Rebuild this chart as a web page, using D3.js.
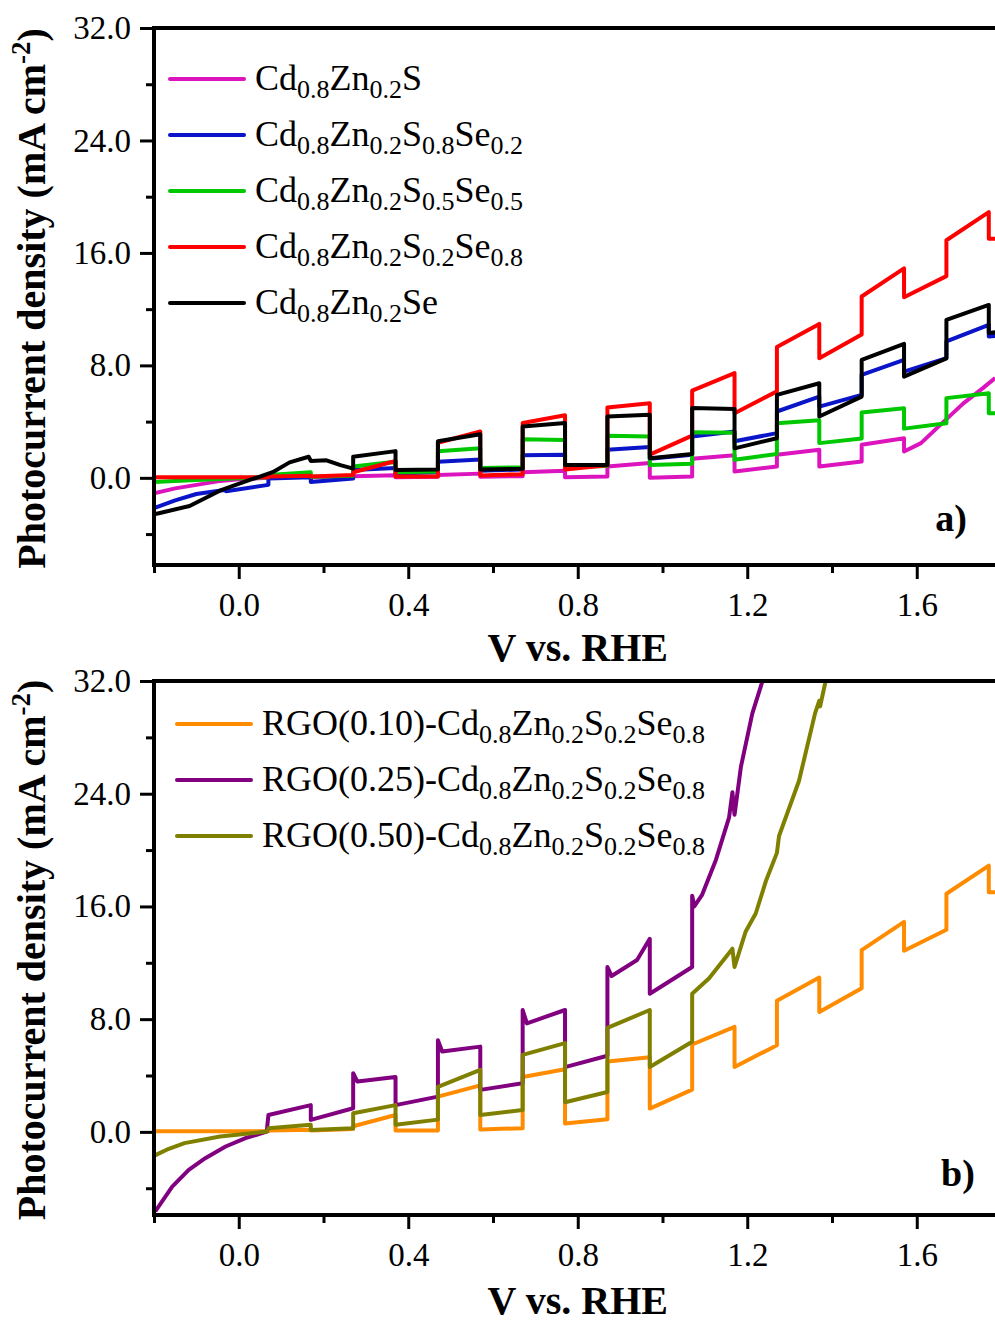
<!DOCTYPE html>
<html>
<head>
<meta charset="utf-8">
<script src="https://cdn.jsdelivr.net/npm/d3@7"></script>
<style>
  body { margin: 0; background: #fff; }
  svg { display: block; }
  text { font-family: 'Liberation Serif', 'Times New Roman', serif; fill: #000; }
</style>
</head>
<body>
<svg id="svg"></svg>
<script>
"use strict";
var width = 995;
var height = 1322;

// axis ticks
var voltageTicks = [0.0, 0.4, 0.8, 1.2, 1.6];
var voltageMinorTicks = [-0.2, 0.2, 0.6, 1.0, 1.4];
var currentTicks = [0.0, 8.0, 16.0, 24.0, 32.0];
var currentMinorTicks = [-4, 4, 12, 20, 28];

// chopped LSV curves, [V vs RHE, mA cm-2]
var cdznS = [[-0.2, -1.1], [-0.15, -0.75], [-0.1, -0.5], [-0.05, -0.25], [0.0, -0.1], [0.07, 0.0], [0.07, 0.05],
    [0.17, 0.1], [0.17, 0.05], [0.27, 0.05], [0.27, 0.12], [0.37, 0.18], [0.37, 0.05], [0.47, 0.08], [0.47, 0.2],
    [0.57, 0.3], [0.57, 0.08], [0.67, 0.12], [0.67, 0.4], [0.77, 0.5], [0.77, 0.05], [0.87, 0.1], [0.87, 0.8],
    [0.97, 1.05], [0.97, 0.0], [1.07, 0.1], [1.07, 1.35], [1.17, 1.6], [1.17, 0.45], [1.27, 0.8], [1.27, 1.64],
    [1.37, 2.0], [1.37, 0.8], [1.47, 1.16], [1.47, 2.35], [1.57, 2.82], [1.57, 1.87], [1.61, 2.47], [1.66, 3.89],
    [1.71, 5.3], [1.756, 6.38], [1.785, 7.1]];
var cdznS08Se02 = [[-0.2, -2.15], [-0.15, -1.6], [-0.1, -1.15], [-0.03, -0.85], [-0.03, -0.95], [0.07, -0.5],
    [0.07, -0.05], [0.17, 0.05], [0.17, -0.3], [0.27, -0.05], [0.27, 0.55], [0.37, 0.7], [0.37, 0.3], [0.47, 0.4],
    [0.47, 1.15], [0.57, 1.3], [0.57, 0.5], [0.67, 0.6], [0.67, 1.6], [0.77, 1.64], [0.77, 0.8], [0.87, 0.85],
    [0.87, 2.0], [0.97, 2.2], [0.97, 1.35], [1.07, 1.64], [1.07, 2.94], [1.17, 3.3], [1.17, 2.6], [1.27, 3.18],
    [1.27, 4.72], [1.37, 5.78], [1.37, 5.07], [1.47, 5.9], [1.47, 7.33], [1.57, 8.39], [1.57, 7.56], [1.67, 8.51],
    [1.67, 9.7], [1.77, 10.88], [1.77, 10.05], [1.785, 10.1]];
var cdznS05Se05 = [[-0.2, -0.3], [-0.1, -0.15], [0.0, -0.03], [0.07, 0.05], [0.07, 0.2], [0.17, 0.4], [0.17, 0.07],
    [0.27, 0.15], [0.27, 0.8], [0.37, 1.15], [0.37, 0.4], [0.47, 0.45], [0.47, 1.9], [0.57, 2.1], [0.57, 0.7],
    [0.67, 0.75], [0.67, 2.75], [0.77, 2.7], [0.77, 0.8], [0.87, 0.85], [0.87, 3.0], [0.97, 2.94], [0.97, 0.92],
    [1.07, 1.0], [1.07, 3.25], [1.17, 3.2], [1.17, 1.28], [1.27, 1.7], [1.27, 3.89], [1.37, 4.1], [1.37, 2.47],
    [1.47, 2.8], [1.47, 4.65], [1.57, 4.95], [1.57, 3.5], [1.67, 3.89], [1.67, 5.67], [1.77, 6.02], [1.77, 4.6],
    [1.785, 4.6]];
var cdznS02Se08 = [[-0.2, 0.05], [0.07, 0.05], [0.07, 0.1], [0.17, 0.15], [0.17, 0.1], [0.27, 0.2], [0.27, 0.4],
    [0.37, 1.2], [0.37, 0.1], [0.47, 0.1], [0.47, 2.5], [0.57, 3.3], [0.57, 0.17], [0.67, 0.26], [0.67, 3.9],
    [0.77, 4.45], [0.77, 0.6], [0.87, 0.9], [0.87, 5.0], [0.97, 5.3], [0.97, 1.65], [1.07, 3.0], [1.07, 6.2],
    [1.17, 7.45], [1.17, 4.6], [1.27, 6.15], [1.27, 9.3], [1.37, 10.95], [1.37, 8.5], [1.47, 10.2], [1.47, 12.9],
    [1.57, 14.9], [1.57, 12.85], [1.67, 14.35], [1.67, 16.9], [1.77, 18.9], [1.77, 17.0], [1.785, 17.0]];
var cdznSe = [[-0.2, -2.6], [-0.186, -2.5], [-0.116, -2.0], [-0.04, -0.85], [0.026, -0.15], [0.08, 0.4],
    [0.12, 1.1], [0.165, 1.5], [0.17, 1.2], [0.207, 1.25], [0.24, 0.9], [0.27, 0.66], [0.27, 1.5], [0.37, 1.9],
    [0.37, 0.55], [0.47, 0.6], [0.47, 2.6], [0.57, 3.1], [0.57, 0.6], [0.67, 0.65], [0.67, 3.65], [0.77, 3.9],
    [0.77, 0.92], [0.87, 0.92], [0.87, 4.36], [0.97, 4.48], [0.97, 1.4], [1.07, 1.7], [1.07, 4.96], [1.17, 4.9],
    [1.17, 2.1], [1.27, 2.82], [1.27, 5.9], [1.37, 6.73], [1.37, 4.36], [1.47, 5.78], [1.47, 8.39], [1.57, 9.53],
    [1.57, 7.2], [1.67, 8.5], [1.67, 11.24], [1.77, 12.3], [1.77, 10.3], [1.785, 10.35]];
// RGO(0.10) sample gives the same curve as Cd0.8Zn0.2S0.2Se0.8
var rgo010 = cdznS02Se08;
var rgo025 = [[-0.197, -5.65], [-0.157, -3.88], [-0.118, -2.7], [-0.079, -1.87], [-0.031, -1.04], [0.016, -0.45],
    [0.066, 0.02], [0.07, 1.2], [0.17, 1.9], [0.17, 0.85], [0.27, 1.68], [0.27, 4.16], [0.28, 3.57], [0.37, 3.9],
    [0.37, 1.9], [0.47, 2.5], [0.47, 6.5], [0.48, 5.7], [0.57, 6.05], [0.57, 2.98], [0.67, 3.45], [0.67, 8.65],
    [0.68, 7.7], [0.77, 8.65], [0.77, 4.6], [0.87, 5.4], [0.87, 11.7], [0.88, 11.06], [0.94, 12.2], [0.97, 13.7],
    [0.97, 9.8], [1.07, 11.7], [1.07, 16.76], [1.075, 16.0], [1.093, 16.8], [1.126, 19.3], [1.157, 22.3],
    [1.165, 24.1], [1.17, 22.5], [1.185, 25.9], [1.212, 29.7], [1.236, 32.0], [1.25, 34.0]];
var rgo050 = [[-0.2, -1.7], [-0.165, -1.2], [-0.128, -0.8], [-0.044, -0.33], [0.066, 0.02], [0.07, 0.25],
    [0.17, 0.5], [0.17, 0.14], [0.27, 0.25], [0.27, 1.32], [0.37, 1.9], [0.37, 0.5], [0.47, 0.87], [0.47, 3.2],
    [0.57, 4.4], [0.57, 1.2], [0.67, 1.56], [0.67, 5.46], [0.77, 6.3], [0.77, 2.1], [0.87, 2.83], [0.87, 7.38],
    [0.97, 8.65], [0.97, 4.6], [1.07, 6.4], [1.07, 9.8], [1.11, 10.9], [1.165, 13.0], [1.17, 11.7], [1.196, 14.2],
    [1.22, 15.5], [1.244, 17.8], [1.27, 19.8], [1.275, 21.0], [1.322, 24.9], [1.36, 29.7], [1.37, 30.6],
    [1.372, 30.2], [1.385, 32.0], [1.4, 34.0]];

// legend labels: even items normal text, odd items subscripts
var topLabels = [
    ['Cd', '0.8', 'Zn', '0.2', 'S'],
    ['Cd', '0.8', 'Zn', '0.2', 'S', '0.8', 'Se', '0.2'],
    ['Cd', '0.8', 'Zn', '0.2', 'S', '0.5', 'Se', '0.5'],
    ['Cd', '0.8', 'Zn', '0.2', 'S', '0.2', 'Se', '0.8'],
    ['Cd', '0.8', 'Zn', '0.2', 'Se']
];
var bottomLabels = [
    ['RGO(0.10)-Cd', '0.8', 'Zn', '0.2', 'S', '0.2', 'Se', '0.8'],
    ['RGO(0.25)-Cd', '0.8', 'Zn', '0.2', 'S', '0.2', 'Se', '0.8'],
    ['RGO(0.50)-Cd', '0.8', 'Zn', '0.2', 'S', '0.2', 'Se', '0.8']
];
var topColors = ['#DC14BE', '#0A14C8', '#00C800', '#FF0000', '#000000'];
var bottomColors = ['#FF8C00', '#800080', '#808000'];

var panels = [
    { top: 28, bottom: 565, yMin: -6.2, series: [cdznS, cdznS08Se02, cdznS05Se05, cdznS02Se08, cdznSe],
      labels: topLabels, colors: topColors, legendX: 170, legendY: 79, tag: 'a)', tagX: 951, tagY: 531, titleY: 661 },
    { top: 681, bottom: 1215, yMin: -5.9, series: [rgo010, rgo025, rgo050],
      labels: bottomLabels, colors: bottomColors, legendX: 177, legendY: 724, tag: 'b)', tagX: 958, tagY: 1186, titleY: 1314 }
];

var svg = d3.select('#svg')
    .attr('width', width)
    .attr('height', height);

// same voltage axis for both panels
var x = d3.scaleLinear().domain([-0.2, 1.8]).range([154, 1001.5]);

var styleAxis = function (g) {
    g.select('.domain').remove();
    g.selectAll('.tick line').attr('stroke', '#000').attr('stroke-width', 3);
    g.selectAll('.tick text').style('font-size', '33px').attr('fill', '#000');
};

panels.forEach(function (p, i) {
    var y = d3.scaleLinear().domain([p.yMin, 32]).range([p.bottom, p.top]);

    svg.append('clipPath')
        .attr('id', 'clip' + i)
        .append('rect')
        .attr('x', x.range()[0])
        .attr('y', p.top)
        .attr('width', x.range()[1] - x.range()[0])
        .attr('height', p.bottom - p.top);

    // x ticks
    svg.append('g')
        .attr('transform', 'translate(0,' + p.bottom + ')')
        .call(d3.axisBottom(x).tickValues(voltageMinorTicks).tickSize(8).tickFormat(''))
        .call(styleAxis);
    svg.append('g')
        .attr('transform', 'translate(0,' + p.bottom + ')')
        .call(d3.axisBottom(x).tickValues(voltageTicks).tickSize(14).tickPadding(14).tickFormat(d3.format('.1f')))
        .call(styleAxis);

    // y ticks
    svg.append('g')
        .attr('transform', 'translate(' + x.range()[0] + ',0)')
        .call(d3.axisLeft(y).tickValues(currentMinorTicks).tickSize(8).tickFormat(''))
        .call(styleAxis);
    svg.append('g')
        .attr('transform', 'translate(' + x.range()[0] + ',0)')
        .call(d3.axisLeft(y).tickValues(currentTicks).tickSize(14).tickPadding(9).tickFormat(d3.format('.1f')))
        .call(styleAxis);

    // curves
    var line = d3.line()
        .x(function (d) { return x(d[0]); })
        .y(function (d) { return y(d[1]); });
    svg.append('g')
        .attr('clip-path', 'url(#clip' + i + ')')
        .selectAll('path')
        .data(p.series)
        .enter()
        .append('path')
        .attr('d', line)
        .attr('fill', 'none')
        .attr('stroke', function (d, k) { return p.colors[k]; })
        .attr('stroke-width', 4)
        .attr('stroke-linejoin', 'round');

    // frame
    svg.append('rect')
        .attr('x', x.range()[0])
        .attr('y', p.top)
        .attr('width', x.range()[1] - x.range()[0])
        .attr('height', p.bottom - p.top)
        .attr('fill', 'none')
        .attr('stroke', '#000')
        .attr('stroke-width', 4);

    // legend
    var leg = svg.append('g')
        .selectAll('g')
        .data(p.labels)
        .enter()
        .append('g')
        .attr('transform', function (d, k) { return 'translate(' + p.legendX + ',' + (p.legendY + k * 56) + ')'; });
    leg.append('line')
        .attr('x1', 0)
        .attr('x2', 74)
        .attr('stroke', function (d, k) { return p.colors[k]; })
        .attr('stroke-width', 4)
        .attr('stroke-linecap', 'round');
    leg.append('text')
        .attr('x', 85)
        .attr('y', 11)
        .style('font-size', '36px')
        .each(function (parts) {
            var t = d3.select(this);
            parts.forEach(function (s, k) {
                t.append('tspan')
                    .text(s)
                    .style('font-size', k % 2 ? '26px' : '36px')
                    .attr('dy', k === 0 ? 0 : (k % 2 ? 8 : -8));
            });
        });

    // panel tag
    svg.append('text')
        .attr('x', p.tagX)
        .attr('y', p.tagY)
        .attr('text-anchor', 'middle')
        .style('font-size', '38px')
        .style('font-weight', 'bold')
        .text(p.tag);

    // axis titles
    svg.append('text')
        .attr('x', (x(-0.2) + 1001.5) / 2)
        .attr('y', p.titleY)
        .attr('text-anchor', 'middle')
        .style('font-size', '40px')
        .style('font-weight', 'bold')
        .text('V vs. RHE');

    var yt = svg.append('text')
        .attr('transform', 'translate(45,' + ((p.top + p.bottom) / 2 + 2) + ') rotate(-90)')
        .attr('text-anchor', 'middle')
        .style('font-size', '40px')
        .style('font-weight', 'bold');
    yt.append('tspan').text('Photocurrent density (mA cm');
    yt.append('tspan').text('-2').style('font-size', '27px').attr('dy', -15);
    yt.append('tspan').text(')').attr('dy', 15);
});
</script>
</body>
</html>
